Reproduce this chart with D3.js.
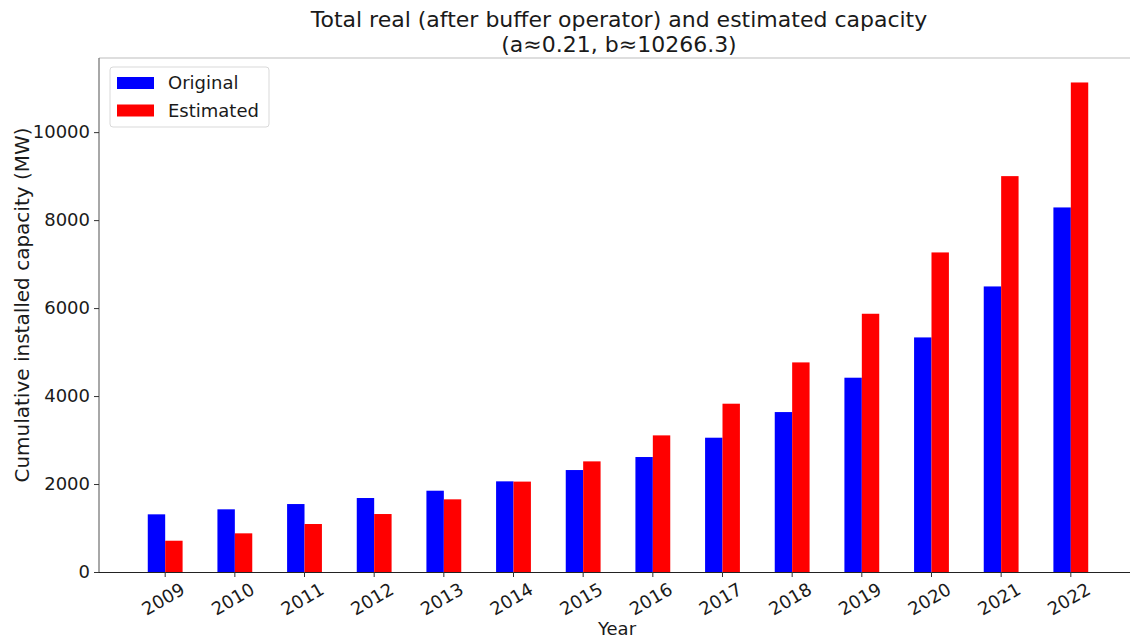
<!DOCTYPE html>
<html>
<head>
<meta charset="utf-8">
<script src="https://cdn.jsdelivr.net/npm/d3@7"></script>
<style>
  body { margin: 0; background: #fff; }
  svg { display: block; font-family: "DejaVu Sans", sans-serif; }
</style>
</head>
<body>
<svg id="chart" width="1130" height="639"></svg>
<script>
const years = [2009, 2010, 2011, 2012, 2013, 2014, 2015, 2016, 2017, 2018, 2019, 2020, 2021, 2022];
const original = [1311, 1425, 1545, 1682, 1848, 2061, 2318, 2614, 3053, 3636, 4417, 5333, 6492, 8288];
const estimated = [711, 879, 1091, 1318, 1652, 2055, 2515, 3106, 3826, 4765, 5871, 7265, 9000, 11129];
const yTicks = [0, 2000, 4000, 6000, 8000, 10000];

const series = [
  { name: "Original", values: original, color: "#0000ff", offset: -1 },
  { name: "Estimated", values: estimated, color: "#ff0000", offset: 0 }
];

// right edge of the axes sits just past the svg edge
const margin = { top: 58, right: -7, bottom: 67, left: 99 };
const width = 1130, height = 639;

const svg = d3.select("#chart");

const x = d3.scaleBand()
  .domain(years)
  .range([margin.left, width - margin.right])
  .paddingInner(0)
  .paddingOuter(0.45);

const y = d3.scaleLinear()
  .domain([0, d3.max(estimated) * 1.05])
  .range([height - margin.bottom, margin.top]);

const barW = x.step() * 0.25;

// bars, side by side around each year tick
series.forEach(s => {
  svg.append("g")
    .selectAll("rect")
    .data(years.map((yr, i) => ({ yr, v: s.values[i] })))
    .join("rect")
    .attr("x", d => x(d.yr) + x.bandwidth() / 2 + s.offset * barW)
    .attr("width", barW)
    .attr("y", d => y(d.v))
    .attr("height", d => y(0) - y(d.v))
    .attr("fill", s.color);
});

// spines
const x0 = margin.left, x1 = width - margin.right;
svg.append("line").attr("x1", x0).attr("x2", x1)
  .attr("y1", margin.top).attr("y2", margin.top)
  .attr("stroke", "#bdbdbd").attr("stroke-width", 1.2);
svg.append("line").attr("x1", x0).attr("x2", x0)
  .attr("y1", margin.top).attr("y2", y(0))
  .attr("stroke", "#6e6e6e").attr("stroke-width", 1.2);

// y axis
const yAxis = svg.append("g")
  .attr("transform", `translate(${x0},0)`)
  .call(d3.axisLeft(y).tickValues(yTicks).tickSize(5).tickPadding(4).tickFormat(d3.format("d")));
yAxis.select(".domain").remove();
yAxis.selectAll("text").attr("font-size", 18).attr("fill", "#1a1a1a").attr("font-family", "DejaVu Sans");
yAxis.selectAll("line").attr("stroke", "#333");

// x axis
const xAxis = svg.append("g")
  .attr("transform", `translate(0,${y(0)})`)
  .call(d3.axisBottom(x).tickSize(5).tickFormat(d => d));
xAxis.select(".domain").attr("stroke", "#222").attr("stroke-width", 1.2)
  .attr("d", `M${x0},0.5H${x1}`);
xAxis.selectAll("line").attr("stroke", "#333");
xAxis.selectAll("text")
  .attr("font-size", 18)
  .attr("fill", "#1a1a1a")
  .attr("font-family", "DejaVu Sans")
  .attr("text-anchor", "middle")
  .attr("dy", "0.35em")
  .attr("y", 0)
  .attr("transform", "translate(-2,27) rotate(-30)");

// axis titles
svg.append("text")
  .attr("x", 617).attr("y", 635)
  .attr("text-anchor", "middle")
  .attr("font-size", 18).attr("fill", "#1a1a1a")
  .text("Year");

svg.append("text")
  .attr("transform", "translate(29,305) rotate(-90)")
  .attr("text-anchor", "middle")
  .attr("font-size", 20).attr("fill", "#1a1a1a")
  .text("Cumulative installed capacity (MW)");

const title = svg.append("text")
  .attr("text-anchor", "middle")
  .attr("font-size", 22).attr("fill", "#1a1a1a");
title.append("tspan").attr("x", 619).attr("y", 27)
  .text("Total real (after buffer operator) and estimated capacity");
title.append("tspan").attr("x", 619).attr("y", 52)
  .text("(a≈0.21, b≈10266.3)");

// legend
const legend = svg.append("g").attr("transform", "translate(110,67)");
legend.append("rect")
  .attr("width", 159).attr("height", 60)
  .attr("rx", 3)
  .attr("fill", "#fff").attr("fill-opacity", 0.8)
  .attr("stroke", "#d9d9d9");
series.forEach((s, i) => {
  const row = legend.append("g").attr("transform", `translate(7,${10 + i * 27.5})`);
  row.append("rect").attr("width", 37).attr("height", 12).attr("fill", s.color);
  row.append("text")
    .attr("x", 51).attr("y", 6).attr("dy", "0.35em")
    .attr("font-size", 18).attr("fill", "#1a1a1a")
    .text(s.name);
});
</script>
</body>
</html>
